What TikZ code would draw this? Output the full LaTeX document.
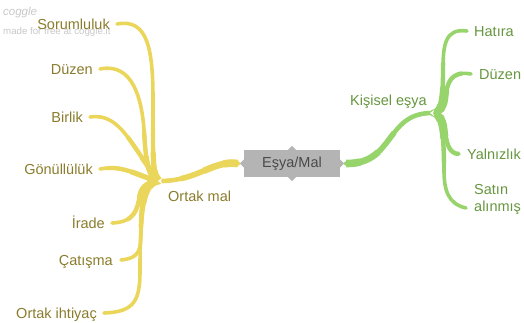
\documentclass[tikz,border=0pt]{standalone}
\usepackage{fontspec}
\setmainfont{Liberation Sans}
\definecolor{ybranch}{HTML}{EBD65C}
\definecolor{ytext}{HTML}{8A7C2C}
\definecolor{gbranch}{HTML}{98D46C}
\definecolor{gtext}{HTML}{66963F}
\definecolor{hubfill}{HTML}{B4B4B4}
\definecolor{hubtext}{HTML}{4A4A4A}
\definecolor{mark}{HTML}{C8C8C8}
% tapered branch: the path starts at its thick end
\newcommand{\leafbranch}[2]{%
  \draw[#1,line width=3.6pt,line cap=round] #2;
  \draw[#1,line width=4.4pt,dash pattern=on 55pt off 3000pt] #2;
  \draw[#1,line width=5.2pt,dash pattern=on 30pt off 3000pt] #2;
  \draw[#1,line width=6.0pt,dash pattern=on 12pt off 3000pt] #2;}
\newcommand{\trunkbranch}[2]{%
  \draw[#1,line width=4.6pt,line cap=round] #2;
  \draw[#1,line width=5.6pt,dash pattern=on 60pt off 3000pt] #2;
  \draw[#1,line width=6.6pt,dash pattern=on 35pt off 3000pt] #2;
  \draw[#1,line width=7.6pt,dash pattern=on 14pt off 3000pt] #2;}
\begin{document}
\begin{tikzpicture}[x=1pt,y=-1pt,
  lbl/.style={inner sep=0pt,font=\fontsize{14.5}{17}\selectfont,text height=10pt,text depth=0pt},
  ylbl/.style={lbl,text=ytext},
  glbl/.style={lbl,text=gtext,align=left},
  hub/.style={fill=hubfill,draw=none,minimum width=96pt,minimum height=27pt,inner sep=0pt,
    text=hubtext,font=\fontsize{14.5}{17}\selectfont}]
\useasboundingbox (0,0) rectangle (524,322);

% watermark
\node[anchor=west,inner sep=0pt,text=mark,font=\itshape\fontsize{11.5}{12}\selectfont] (wm1) at (3,13) {coggle};
\node[anchor=west,inner sep=0pt,text=mark,font=\fontsize{9.7}{11}\selectfont] (wm2) at (3,32) {made for free at coggle.it};

% junctions
\coordinate (jy) at (160,181);
\coordinate (jg) at (432,113);

% yellow leaves
\node[ylbl,anchor=east] (sor) at (110,24) {Sorumluluk};
\node[ylbl,anchor=east] (duz) at (93,69) {Düzen};
\node[ylbl,anchor=east] (bir) at (83,117) {Birlik};
\node[ylbl,anchor=east] (gon) at (93,169) {Gönüllülük};
\node[ylbl,anchor=east] (ira) at (105,223) {İrade};
\node[ylbl,anchor=east] (cat) at (113,260) {Çatışma};
\node[ylbl,anchor=east] (ort) at (97,313) {Ortak ihtiyaç};
\node[ylbl,anchor=west] (mal) at (168,196) {Ortak mal};

% green leaves
\node[glbl,anchor=east] (kis) at (427,100) {Kişisel eşya};
\node[glbl,anchor=west] (hat) at (474,31) {Hatıra};
\node[glbl,anchor=west] (gdu) at (479,74) {Düzen};
\node[glbl,anchor=west] (yal) at (467,154) {Yalnızlık};
\node[glbl,anchor=west,text depth=3pt] (sat) at (474,208) {Satın\\alınmış};

% yellow branches
\leafbranch{ybranch}{(jy) .. controls (152,175) and (153,160) .. (153,100) .. controls (153,50) and (148,18) .. ([xshift=7pt]sor.east)}
\leafbranch{ybranch}{(jy) .. controls (148,177) and (146,165) .. (144,130) .. controls (142,100) and (133,62) .. ([xshift=7pt]duz.east)}
\leafbranch{ybranch}{(jy) .. controls (132,150) and (122,112) .. ([xshift=7pt]bir.east)}
\leafbranch{ybranch}{(jy) .. controls (140,178) and (125,164) .. ([xshift=7pt]gon.east)}
\leafbranch{ybranch}{(jy) .. controls (148,182) and (142,186) .. (140,195) .. controls (137,210) and (135,222) .. ([xshift=7pt]ira.east)}
\leafbranch{ybranch}{(jy) .. controls (145,183) and (141,195) .. (141,230) .. controls (141,250) and (140,258) .. ([xshift=8pt]cat.east)}
\leafbranch{ybranch}{(jy) .. controls (145,183) and (140,200) .. (140,270) .. controls (140,300) and (135,312) .. ([xshift=7pt]ort.east)}

% green branches
\leafbranch{gbranch}{(jg) .. controls (440,112) and (443,105) .. (443,70) .. controls (443,45) and (445,28) .. ([xshift=-7pt]hat.west)}
\leafbranch{gbranch}{(jg) .. controls (440,112) and (445,110) .. (446,95) .. controls (447,85) and (450,70) .. ([xshift=-8pt]gdu.west)}
\leafbranch{gbranch}{(jg) .. controls (440,114) and (444,118) .. (445,130) .. controls (446,140) and (448,154) .. ([xshift=-8pt]yal.west)}
\leafbranch{gbranch}{(jg) .. controls (440,114) and (444,125) .. (444,170) .. controls (444,190) and (448,204) .. ([xshift=-8pt]sat.west)}

% central topic
\node[hub] (hub) at (292,163.5) {Eşya/Mal};
\fill[hubfill] ([xshift=-4pt]hub.north) -- ([yshift=4pt]hub.north) -- ([xshift=4pt]hub.north) -- cycle;
\fill[hubfill] ([xshift=-4pt]hub.south) -- ([yshift=-4pt]hub.south) -- ([xshift=4pt]hub.south) -- cycle;
\fill[hubfill] ([yshift=-4pt]hub.west) -- ([xshift=-4pt]hub.west) -- ([yshift=4pt]hub.west) -- cycle;
\fill[hubfill] ([yshift=-4pt]hub.east) -- ([xshift=4pt]hub.east) -- ([yshift=4pt]hub.east) -- cycle;

% main branches
\trunkbranch{ybranch}{([xshift=-6pt]hub.west) .. controls (212,160) and (198,181) .. (jy)}
\trunkbranch{gbranch}{([xshift=6pt]hub.east) .. controls (395,164) and (385,113) .. (jg)}

% small notches where main branches meet their children
\fill[white] (jy) ++(2,-3) -- ++(-4,3) -- ++(4,3) -- ++(-1,-3) -- cycle;
\fill[white] (jg) ++(2,-3) -- ++(-4,3) -- ++(4,3) -- ++(-1,-3) -- cycle;
\end{tikzpicture}
\end{document}
